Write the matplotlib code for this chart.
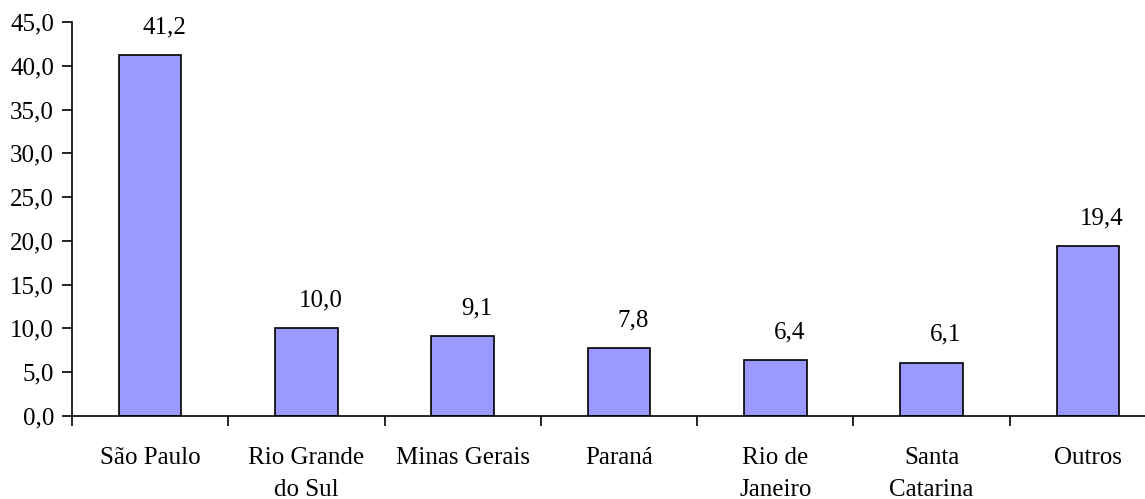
import matplotlib.pyplot as plt
import numpy as np
from matplotlib.ticker import FixedLocator, FuncFormatter

# ── data ──────────────────────────────────────────────────────────────────────
states = ["São Paulo", "Rio Grande\ndo Sul", "Minas Gerais", "Paraná",
          "Rio de\nJaneiro", "Santa\nCatarina", "Outros"]
shares = [41.2, 10.0, 9.1, 7.8, 6.4, 6.1, 19.4]
yticks = [0, 5, 10, 15, 20, 25, 30, 35, 40, 45]

BAR_COLOR = "#9999FF"
FS = 18

plt.rcParams["font.family"] = ["Liberation Serif", "DejaVu Serif"]

fig = plt.figure(figsize=(11.45, 4.99), dpi=100)
ax = fig.add_axes([72 / 1145, 1 - 416 / 499, (1166 - 72) / 1145, 394 / 499])

x = np.arange(len(states))
bars = ax.bar(x, shares, width=0.4, color=BAR_COLOR, edgecolor="black", linewidth=1.2)

for bar, val in zip(bars, shares):
    ax.annotate(f"{val:.1f}".replace(".", ","),
                (bar.get_x() + bar.get_width() / 2, bar.get_height()),
                xytext=(10, 12), textcoords="offset points",
                ha="center", va="bottom", fontsize=FS)

ax.set_xlim(-0.5, len(states) - 0.5)
ax.set_ylim(0, 45)
ax.set_yticks(yticks)
ax.yaxis.set_major_formatter(FuncFormatter(lambda v, _: f"{v:.1f}".replace(".", ",")))

ax.set_xticks(x)
ax.set_xticklabels(states, fontsize=FS, linespacing=1.6)
ax.xaxis.set_minor_locator(FixedLocator(np.arange(len(states) + 1) - 0.5))
ax.tick_params(axis="x", which="major", length=0, pad=22)
ax.tick_params(axis="x", which="minor", length=7, width=1.2, direction="out")
ax.tick_params(axis="y", length=7, width=1.2, labelsize=FS, pad=6)

for s in ["top", "right"]:
    ax.spines[s].set_visible(False)
for s in ["left", "bottom"]:
    ax.spines[s].set_linewidth(1.2)

fig.savefig("out.png", dpi=100)
